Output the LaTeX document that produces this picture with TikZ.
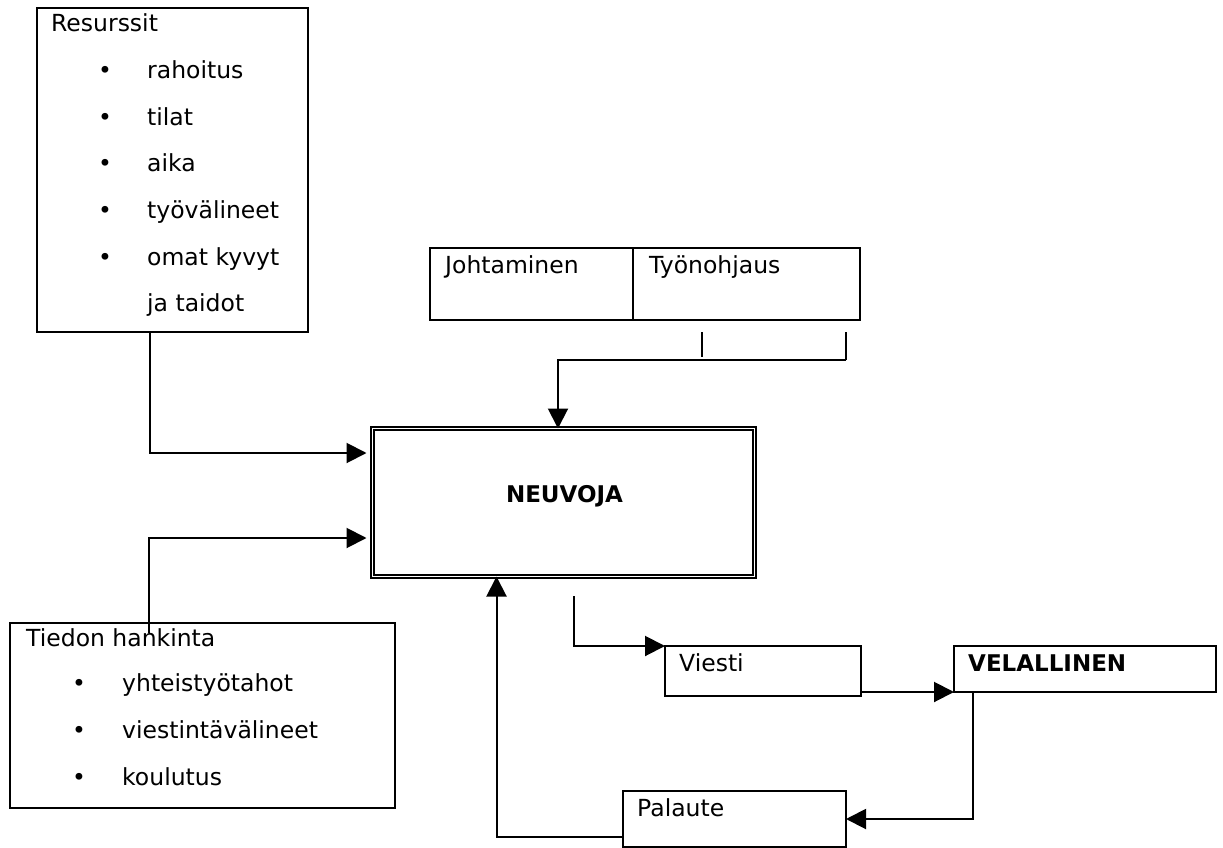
\documentclass[tikz,border=0pt]{standalone}
\usepackage{fontspec}
\setmainfont{DejaVu Sans}
\usetikzlibrary{arrows.meta}

\tikzset{
   box/.style={draw, line width=2.4pt, inner sep=0pt, outer sep=0pt, anchor=north west},
   txt/.style={anchor=base west, inner sep=0pt, font=\fontsize{23.5}{28}\selectfont},
   bul/.style={anchor=base, inner sep=0pt, font=\fontsize{23.5}{28}\selectfont},
   conn/.style={line width=2pt, -{Triangle[length=20pt,width=20pt]}}
}

\begin{document}
\begin{tikzpicture}[x=1pt,y=-1pt]

      \useasboundingbox (0,0) rectangle (1223,848);

      \def\dy{46.67}

      % Resurssit
      \node [box, minimum width=271pt, minimum height=324pt] (res) at (37,8) {};
      \node [txt] (resT) at (51,31.7) {Resurssit};
      \foreach \t [count=\i] in {rahoitus, tilat, aika, työvälineet, omat kyvyt}
      {
         \node [bul] (resB\i) at (105, 31.7+\dy*\i) {•};
         \node [txt] (resI\i) at (147, 31.7+\dy*\i) {\t};
      }
      \node [txt] (resI6) at (147,311.7) {ja taidot};

      % Tiedon hankinta
      \node [box, minimum width=385pt, minimum height=185pt] (tie) at (10,623) {};
      \node [txt] (tieT) at (26,646.7) {Tiedon hankinta};
      \foreach \t [count=\i] in {yhteistyötahot, viestintävälineet, koulutus}
      {
         \node [bul] (tieB\i) at (79, 645+\dy*\i) {•};
         \node [txt] (tieI\i) at (122, 645+\dy*\i) {\t};
      }

      % Johtaminen / Tyonohjaus
      \node [box, minimum width=203pt, minimum height=72pt] (jo) at (430,248) {};
      \node [box, minimum width=227pt, minimum height=72pt] (ty) at (633,248) {};
      \node [txt] (joT) at (445,273.3) {Johtaminen};
      \node [txt] (tyT) at (649,273.3) {Työnohjaus};

      % NEUVOJA
      \node [box, double, line width=2pt, double distance=1pt, minimum width=382pt, minimum height=148pt] (neu) at (372.5,428.5) {};
      \node [txt, anchor=base, font=\fontsize{23}{28}\selectfont\bfseries] (neuT) at (564.5,502) {NEUVOJA};

      % Viesti, VELALLINEN, Palaute
      \node [box, minimum width=196pt, minimum height=50pt] (vie) at (665,646) {};
      \node [txt] (vieT) at (679,671) {Viesti};
      \node [box, minimum width=262pt, minimum height=46pt] (vel) at (954,646) {};
      \node [txt, font=\fontsize{23}{28}\selectfont\bfseries] (velT) at (968,671) {VELALLINEN};
      \node [box, minimum width=223pt, minimum height=56pt] (pal) at (623,791) {};
      \node [txt] (palT) at (637,816) {Palaute};

      % connectors
      \draw [conn, shorten >=6pt] ([xshift=113pt]res.south west) |- ([yshift=-24.5pt]neu.north west);
      \draw [conn, shorten >=6pt] ([shift={(139pt,-10pt)}]tie.north west) |- ([yshift=38.5pt]neu.south west);

      \coordinate (t1a) at ([shift={(69pt,-12pt)}]ty.south west);
      \coordinate (t1b) at ([shift={(69pt,-37pt)}]ty.south west);
      \coordinate (t2a) at ([shift={(-14pt,-12pt)}]ty.south east);
      \coordinate (t2b) at ([shift={(-14pt,-40pt)}]ty.south east);
      \draw [line width=2pt] (t1a) -- (t1b);
      \draw [line width=2pt] (t2a) -- (t2b);
      \draw [conn] (t2b) -| ([xshift=-5.5pt]neu.north);

      \draw [conn] ([shift={(10.5pt,-19.5pt)}]neu.south) |- (vie.north west);
      \draw [conn] ([yshift=4pt]vie.south east) -- ([yshift=4pt]vie.south east -| vel.west);
      \draw [conn] ([xshift=19pt]vel.south west) |- (pal.east);
      \draw [conn] ([yshift=10pt]pal.south west) -| ([xshift=124pt]neu.south west);

   \end{tikzpicture}
\end{document}
